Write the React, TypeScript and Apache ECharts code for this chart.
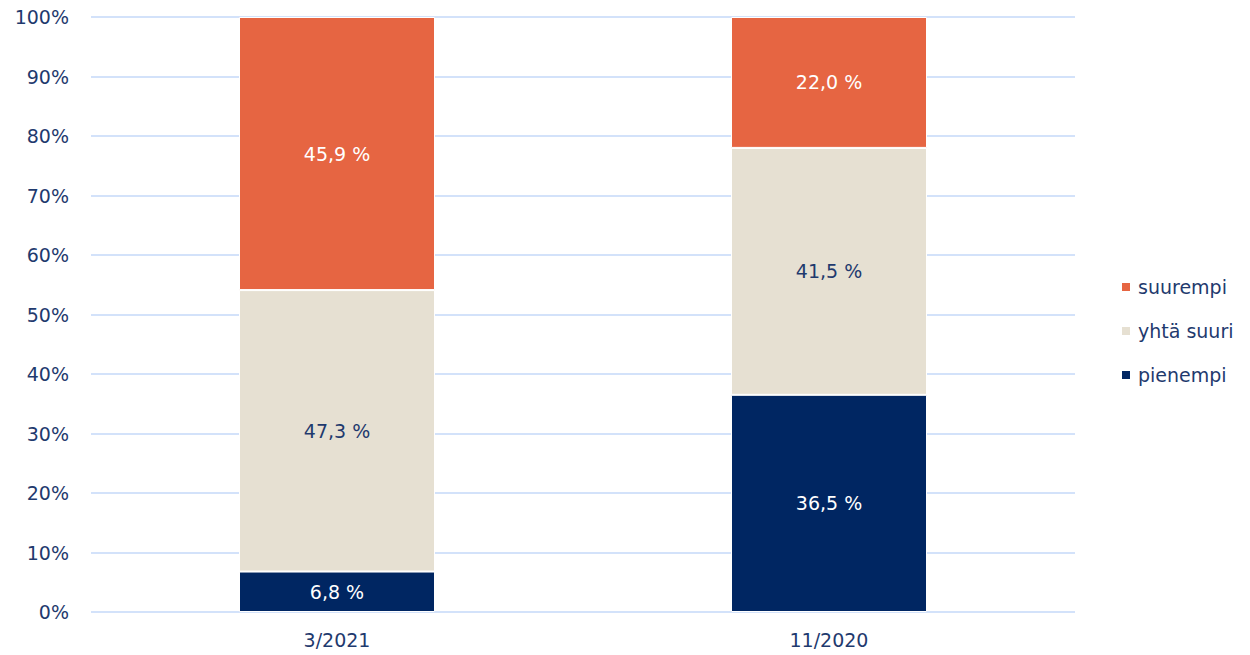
import React, { useEffect, useRef } from "react";
import * as echarts from "echarts";

const categories = ["3/2021", "11/2020"];
const pienempi = [6.8, 36.5];
const yhtaSuuri = [47.3, 41.5];
const suurempi = [45.9, 22.0];
const yTicks = [0, 10, 20, 30, 40, 50, 60, 70, 80, 90, 100];

const FONT = "DejaVu Sans";
const TEXT = "#1F3A6E";

export default function App() {
  const ref = useRef<HTMLDivElement>(null);
  useEffect(() => {
    document.body.style.margin = "0";
    const chart = echarts.init(ref.current!, null, { renderer: "svg" });
    const fmt = (p: any) => p.value.toFixed(1).replace(".", ",") + " %";
    const mk = (name: string, data: number[], color: string, labelColor: string) => ({
      name,
      type: "bar",
      stack: "total",
      data,
      barWidth: 196,
      itemStyle: { color, borderColor: "#ffffff", borderWidth: 1 },
      label: {
        show: true,
        position: "inside",
        formatter: fmt,
        color: labelColor,
        fontFamily: FONT,
        fontSize: 19,
      },
    });
    chart.setOption({
      animation: false,
      textStyle: { fontFamily: FONT },
      grid: { left: 91, right: 175, top: 17, bottom: 43 },
      legend: {
        orient: "vertical",
        left: 1115,
        top: 272,
        icon: "rect",
        itemWidth: 10,
        itemHeight: 10,
        itemGap: 24,
        data: ["suurempi", "yhtä suuri", "pienempi"],
        textStyle: { color: TEXT, fontFamily: FONT, fontSize: 19, lineHeight: 20, padding: [0, 0, 0, 2] },
      },
      xAxis: {
        type: "category",
        data: categories,
        axisLine: { show: false },
        axisTick: { show: false },
        axisLabel: { color: TEXT, fontFamily: FONT, fontSize: 19, margin: 18 },
      },
      yAxis: {
        type: "value",
        min: yTicks[0],
        max: yTicks[yTicks.length - 1],
        interval: 10,
        axisLabel: {
          color: TEXT,
          fontFamily: FONT,
          fontSize: 19,
          margin: 22,
          formatter: (v: number) => v + "%",
        },
        splitLine: { lineStyle: { color: "#C5D8F8", width: 1.5 } },
      },
      series: [
        mk("pienempi", pienempi, "#002662", "#ffffff"),
        mk("yhtä suuri", yhtaSuuri, "#E6E0D2", TEXT),
        mk("suurempi", suurempi, "#E66542", "#ffffff"),
      ],
    });
    return () => chart.dispose();
  }, []);
  return <div ref={ref} style={{ width: 1250, height: 655 }} />;
}
